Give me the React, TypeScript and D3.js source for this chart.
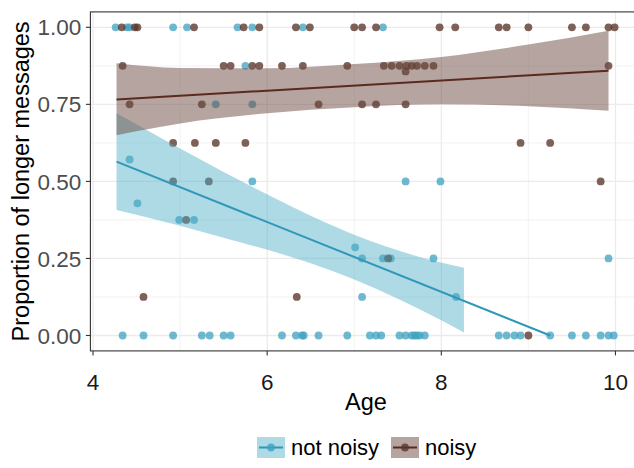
import React from "react";
import * as d3 from "d3";

// ---- data ----
const notNoisyAges = [
  4.26, 4.39, 4.42, 4.92, 5.08, 5.66, 5.83, 6.41, 7.33,
  5.75,
  5.41, 5.83,
  4.42,
  5.83, 7.59, 7.99,
  4.51,
  4.99, 5.16,
  7.01,
  7.09, 7.33, 7.42, 7.91, 9.92,
  7.09, 8.17,
  4.34, 4.58, 4.92, 5.25, 5.34, 5.5, 5.58, 6.17, 6.33, 6.4, 6.42, 6.59, 6.92, 7.18, 7.25, 7.31,
  7.52, 7.59, 7.66, 7.69, 7.72, 7.75, 7.81, 8.66, 8.75, 8.84, 8.91, 9.25, 9.5, 9.66, 9.83, 9.92, 9.98,
];
const notNoisyProps = [
  1, 1, 1, 1, 1, 1, 1, 1, 1,
  0.875,
  0.75, 0.75,
  0.571,
  0.5, 0.5, 0.5,
  0.429,
  0.375, 0.375,
  0.286,
  0.25, 0.25, 0.25, 0.25, 0.25,
  0.125, 0.125,
  0, 0, 0, 0, 0, 0, 0, 0, 0, 0, 0, 0, 0, 0, 0, 0,
  0, 0, 0, 0, 0, 0, 0, 0, 0, 0, 0, 0, 0, 0, 0, 0, 0,
];
const noisyAges = [
  4.33, 4.48, 4.51, 5.16, 5.73, 5.91, 6.33, 6.49, 7.0, 7.09, 7.25, 7.98, 8.16, 8.66, 8.75, 9.0, 9.5, 9.66, 9.92, 9.99,
  4.34, 5.5, 5.58, 5.83, 5.91, 6.17, 6.41, 6.92, 7.34, 7.43, 7.52, 7.6, 7.66, 7.72, 7.81, 7.91, 9.92,
  7.59,
  4.42, 5.25, 6.59, 7.09, 7.25, 7.59,
  4.92, 5.17, 5.41, 5.75, 8.91, 9.25,
  4.92, 5.33, 9.83,
  5.07,
  7.39,
  4.58, 6.34,
  9.0,
];
const noisyProps = [
  1, 1, 1, 1, 1, 1, 1, 1, 1, 1, 1, 1, 1, 1, 1, 1, 1, 1, 1, 1,
  0.875, 0.875, 0.875, 0.875, 0.875, 0.875, 0.875, 0.875, 0.875, 0.875, 0.875, 0.875, 0.875, 0.875, 0.875, 0.875, 0.875,
  0.857,
  0.75, 0.75, 0.75, 0.75, 0.75, 0.75,
  0.625, 0.625, 0.625, 0.625, 0.625, 0.625,
  0.5, 0.5, 0.5,
  0.375,
  0.25,
  0.125, 0.125,
  0,
];

// fitted lines (endpoints) and confidence bands
const notNoisyFitAges = [4.27, 9.25];
const notNoisyFit = [0.564, 0.0];
const notNoisyBandAges = [4.27, 4.75, 5.25, 5.75, 6.25, 6.75, 7.25, 7.75, 8.26];
const notNoisyUpper = [0.721, 0.646, 0.569, 0.494, 0.423, 0.357, 0.3, 0.255, 0.22];
const notNoisyLower = [0.407, 0.374, 0.337, 0.298, 0.257, 0.209, 0.152, 0.085, 0.01];

const noisyFitAges = [4.27, 9.92];
const noisyFit = [0.766, 0.859];
const noisyBandAges = [4.27, 5.0, 6.0, 7.0, 8.0, 9.0, 9.92];
const noisyUpper = [0.883, 0.868, 0.867, 0.881, 0.904, 0.944, 0.989];
const noisyLower = [0.65, 0.688, 0.721, 0.741, 0.75, 0.744, 0.729];

const xTicks = [4, 6, 8, 10];
const xMinor = [5, 7, 9];
const yTicks = [0, 0.25, 0.5, 0.75, 1];
const yMinor = [0.125, 0.375, 0.625, 0.875];
const groups = ["not noisy", "noisy"];

const W = 634;
const H = 468;
const FONT = "'Liberation Sans', Arial, sans-serif";

const BLUE_PT = "#3FA2C0";
const BROWN_PT = "#5A362C";
const BLUE_LINE = "#2F97B7";
const BROWN_LINE = "#5A2A1E";
const BLUE_FILL = "#4BACC6";
const BROWN_FILL = "#6B4A3F";

export default function App() {
  const x = d3.scaleLinear().domain([3.97, 10.3]).range([90.4, 641.6]);
  const y = d3.scaleLinear().domain([-0.05, 1.05]).range([350.9, 11.9]);
  const left = x(3.97);
  const right = x(10.3);
  const top = y(1.05);
  const bottom = y(-0.05);

  const bandPath = (ages: number[], lo: number[], hi: number[]) =>
    d3
      .area<number>()
      .x((i) => x(ages[i]))
      .y0((i) => y(lo[i]))
      .y1((i) => y(hi[i]))
      .curve(d3.curveMonotoneX)(ages.map((_, i) => i)) || "";

  const linePath = (ages: number[], vals: number[]) =>
    d3
      .line<number>()
      .x((i) => x(ages[i]))
      .y((i) => y(vals[i]))(ages.map((_, i) => i)) || "";

  const r = 3.9;

  return (
    <svg
      width={W}
      height={H}
      style={{ position: "absolute", left: 0, top: 0, background: "#fff" }}
      fontFamily={FONT}
    >
      <defs>
        <clipPath id="panel">
          <rect x={left} y={top} width={right - left} height={bottom - top} />
        </clipPath>
      </defs>
      <rect x={0} y={0} width={W} height={H} fill="#fff" />
      {/* grid */}
      <g clipPath="url(#panel)">
        {yMinor.map((t) => (
          <line key={"ym" + t} x1={left} x2={right} y1={y(t)} y2={y(t)} stroke="#F0F0F0" strokeWidth={0.9} />
        ))}
        {xMinor.map((t) => (
          <line key={"xm" + t} x1={x(t)} x2={x(t)} y1={top} y2={bottom} stroke="#F0F0F0" strokeWidth={0.9} />
        ))}
        {yTicks.map((t) => (
          <line key={"yg" + t} x1={left} x2={right} y1={y(t)} y2={y(t)} stroke="#EBEBEB" strokeWidth={1.3} />
        ))}
        {xTicks.map((t) => (
          <line key={"xg" + t} x1={x(t)} x2={x(t)} y1={top} y2={bottom} stroke="#EBEBEB" strokeWidth={1.3} />
        ))}

        {/* points */}
        {notNoisyAges.map((a, i) => (
          <circle key={"b" + i} cx={x(a)} cy={y(notNoisyProps[i])} r={r} fill={BLUE_PT} fillOpacity={0.75} />
        ))}
        {noisyAges.map((a, i) => (
          <circle key={"n" + i} cx={x(a)} cy={y(noisyProps[i])} r={r} fill={BROWN_PT} fillOpacity={0.78} />
        ))}

        {/* smooths */}
        <path d={bandPath(notNoisyBandAges, notNoisyLower, notNoisyUpper)} fill={BLUE_FILL} fillOpacity={0.45} />
        <path d={linePath(notNoisyFitAges, notNoisyFit)} fill="none" stroke={BLUE_LINE} strokeWidth={2} />
        <path d={bandPath(noisyBandAges, noisyLower, noisyUpper)} fill={BROWN_FILL} fillOpacity={0.5} />
        <path d={linePath(noisyFitAges, noisyFit)} fill="none" stroke={BROWN_LINE} strokeWidth={2} />
      </g>
      {/* panel border */}
      <rect x={left} y={top} width={right - left} height={bottom - top} fill="none" stroke="#333333" strokeWidth={1.1} />

      {/* y axis */}
      {yTicks.map((t) => (
        <g key={"yt" + t}>
          <line x1={left - 4.5} x2={left} y1={y(t)} y2={y(t)} stroke="#333333" strokeWidth={1.1} />
          <text x={left - 9} y={y(t)} dy="0.36em" textAnchor="end" fontSize={22.5} fill="#4D4D4D">
            {d3.format(".2f")(t)}
          </text>
        </g>
      ))}
      {/* x axis */}
      {xTicks.map((t) => (
        <g key={"xt" + t}>
          <line x1={x(t)} x2={x(t)} y1={bottom} y2={bottom + 4.5} stroke="#333333" strokeWidth={1.1} />
          <text x={x(t)} y={bottom + 39} textAnchor="middle" fontSize={22.5} fill="#1A1A1A">
            {t}
          </text>
        </g>
      ))}
      <text x={(left + right) / 2} y={410} textAnchor="middle" fontSize={23.5} fill="#000">
        Age
      </text>
      <text
        transform={`translate(${29},${(top + bottom) / 2}) rotate(-90)`}
        textAnchor="middle"
        fontSize={23.5}
        fill="#000"
      >
        Proportion of longer messages
      </text>

      {/* legend */}
      {groups.map((g, i) => {
        const kx = i === 0 ? 257 : 391;
        const kw = 28;
        const ky = 437;
        const kh = 21;
        const fill = i === 0 ? BLUE_FILL : BROWN_FILL;
        const fo = i === 0 ? 0.45 : 0.5;
        const lc = i === 0 ? BLUE_LINE : BROWN_LINE;
        const pc = i === 0 ? BLUE_PT : BROWN_PT;
        return (
          <g key={g}>
            <rect x={kx} y={ky} width={kw} height={kh} fill={fill} fillOpacity={fo} />
            <line x1={kx + 2} x2={kx + kw - 2} y1={ky + kh / 2} y2={ky + kh / 2} stroke={lc} strokeWidth={2} />
            <circle cx={kx + kw / 2} cy={ky + kh / 2} r={r} fill={pc} fillOpacity={0.8} />
            <text x={kx + kw + 6} y={ky + kh / 2} dy="0.36em" fontSize={22} fill="#000">
              {g}
            </text>
          </g>
        );
      })}
    </svg>
  );
}
